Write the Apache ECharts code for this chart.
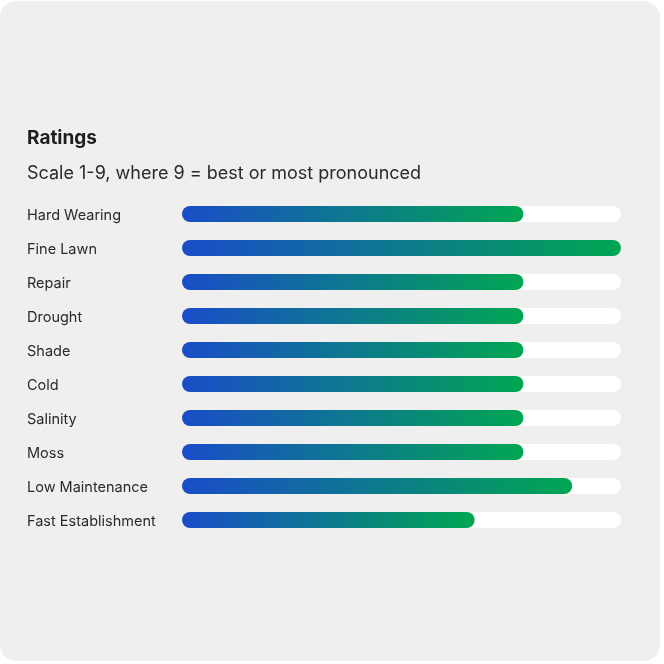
<!DOCTYPE html>
<html>
<head>
<meta charset="utf-8">
<script src="https://cdn.jsdelivr.net/npm/echarts@6/dist/echarts.min.js"></script>
<style>
html,body{margin:0;padding:0;background:#ffffff;}
#card{position:absolute;left:0;top:1px;width:660px;height:660px;border-radius:16px;background:#efefef;overflow:hidden;}
#chart{width:660px;height:660px;}
</style>
</head>
<body>
<div id="card"><div id="chart"></div></div>
<script>
var titleText = 'Ratings';
var subtitleText = 'Scale 1-9, where 9 = best or most pronounced';
var categories = ['Hard Wearing','Fine Lawn','Repair','Drought','Shade','Cold','Salinity','Moss','Low Maintenance','Fast Establishment'];
var ratings = [7,9,7,7,7,7,7,7,8,6];
var scaleMax = 9;

var chart = echarts.init(document.getElementById('chart'));
chart.setOption({
  backgroundColor: 'transparent',
  title: [
    {text: titleText, left: 27, top: 128, padding: 0, textStyle: {fontFamily: 'Inter', fontSize: 19, fontWeight: 'bold', color: '#1e1e1e'}},
    {text: subtitleText, left: 27, top: 164, padding: 0, textStyle: {fontFamily: 'Inter', fontSize: 18, fontWeight: 'normal', color: '#2a2a2a'}}
  ],
  grid: {left: 182, top: 196, width: 439, height: 340, containLabel: false},
  xAxis: {type: 'value', min: 0, max: scaleMax, show: false},
  yAxis: {
    type: 'category', data: categories, inverse: true,
    axisLine: {show: false}, axisTick: {show: false},
    axisLabel: {
      align: 'left', margin: 155,
      formatter: '{a|{value}}',
      rich: {a: {padding: [3, 0, 0, 0], fontFamily: 'Inter', fontSize: 14.5, color: '#2a2a2a'}},
      fontFamily: 'Inter', fontSize: 14.5, color: '#2a2a2a'
    }
  },
  series: [{
    type: 'bar', data: ratings, barWidth: 16,
    showBackground: true,
    backgroundStyle: {color: '#ffffff', borderRadius: 8},
    itemStyle: {
      borderRadius: 8,
      color: new echarts.graphic.LinearGradient(0, 0, 1, 0, [
        {offset: 0, color: '#1a4dc9'},
        {offset: 1, color: '#00a651'}
      ])
    },
    silent: true,
    animation: false
  }]
});
</script>
</body>
</html>
